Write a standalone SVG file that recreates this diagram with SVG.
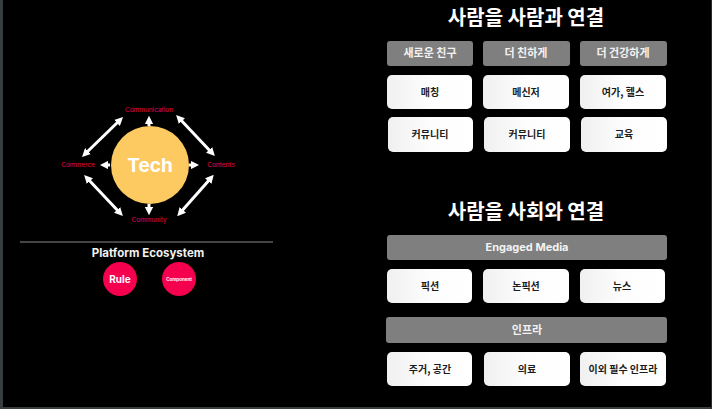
<svg xmlns="http://www.w3.org/2000/svg" width="712" height="409" viewBox="0 0 712 409">
<style>
.lbl{font-family:Inter,"Noto Sans","Noto Sans CJK KR",sans-serif;font-size:6.5px;fill:#e8004c;text-anchor:middle}
.kr{font-family:"Noto Sans CJK KR","Noto Sans",sans-serif;font-weight:700;text-anchor:middle}
.title{font-size:20px;fill:#fff}
.hdr{fill:#7f7f7f}
.hdrt{font-size:11px;fill:#f2f2f2}
.box{fill:url(#bg)}
.boxt{font-size:10px;fill:#1c1c1c}
.arr{stroke:#fff;stroke-width:3;fill:none}
.en{font-family:Inter,"Noto Sans",sans-serif;font-weight:700;text-anchor:middle}
</style>
<defs>
<marker id="ah" viewBox="0 0 10 10" refX="5" refY="5" markerWidth="2.8" markerHeight="2.8" orient="auto-start-reverse" markerUnits="strokeWidth">
<path d="M0,0 L10,5 L0,10 z" fill="#fff"/>
</marker>
<linearGradient id="bg" x1="0" y1="0" x2="1" y2="0">
<stop offset="0" stop-color="#f0f0f0"/>
<stop offset="0.5" stop-color="#fdfdfd"/>
<stop offset="1" stop-color="#fff"/>
</linearGradient>
</defs>
<rect width="712" height="409" fill="#000"/>
<rect x="0" y="0" width="3" height="409" fill="#383d40"/>
<rect x="0" y="407" width="712" height="2" fill="#383d40"/>
<rect x="711" y="0" width="1" height="409" fill="#2a2d30"/>

<g id="connectors">
<line class="arr" x1="149" y1="126" x2="149" y2="120" marker-end="url(#ah)"/>
<line class="arr" x1="110" y1="165" x2="104" y2="165" marker-end="url(#ah)"/>
<line class="arr" x1="189" y1="165" x2="195" y2="165" marker-end="url(#ah)"/>
<line class="arr" x1="149" y1="204" x2="149" y2="211" marker-end="url(#ah)"/>
<line class="arr" x1="85" y1="154" x2="120" y2="120" marker-start="url(#ah)" marker-end="url(#ah)"/>
<line class="arr" x1="179" y1="118" x2="212" y2="153" marker-start="url(#ah)" marker-end="url(#ah)"/>
<line class="arr" x1="87" y1="178" x2="120" y2="213" marker-start="url(#ah)" marker-end="url(#ah)"/>
<line class="arr" x1="180" y1="213" x2="211" y2="178" marker-start="url(#ah)" marker-end="url(#ah)"/>
</g>

<g id="tech">
<circle cx="150" cy="165" r="39" fill="#fdc961"/>
<text x="150" y="172" class="en" font-size="19" fill="#fff">Tech</text>
</g>
<g id="communication"><text x="149" y="112" class="lbl">Communication</text></g>
<g id="commerce"><text x="78" y="167" class="lbl">Commerce</text></g>
<g id="contents"><text x="221" y="167" class="lbl">Contents</text></g>
<g id="community"><text x="149" y="222" class="lbl">Community</text></g>

<g id="platform">
<line x1="20" y1="242" x2="273" y2="242" stroke="#8a8a8a" stroke-width="1"/>
<text x="148" y="257" class="en" font-size="11.5" fill="#f2f2f2">Platform Ecosystem</text>
</g>
<g id="rule">
<circle cx="120" cy="279" r="17" fill="#f5004f"/>
<text x="120" y="283" class="en" font-size="10" fill="#fff">Rule</text>
</g>
<g id="component">
<circle cx="179" cy="279" r="17" fill="#f5004f"/>
<text x="179" y="281" class="en" font-size="4.5" font-weight="400" fill="#fff">Component</text>
</g>

<g id="title1"><text x="526" y="25" class="kr title">사람을 사람과 연결</text></g>
<g id="h1"><rect x="387" y="41" width="86" height="25" rx="3" class="hdr"/><text x="430" y="57" class="kr hdrt">새로운 친구</text></g>
<g id="h2"><rect x="483" y="41" width="87" height="25" rx="3" class="hdr"/><text x="526" y="57" class="kr hdrt">더 친하게</text></g>
<g id="h3"><rect x="580" y="41" width="87" height="25" rx="3" class="hdr"/><text x="623" y="57" class="kr hdrt">더 건강하게</text></g>

<g id="b11"><rect x="387" y="75" width="85" height="34" rx="5" class="box"/><text x="430" y="96" class="kr boxt">매칭</text></g>
<g id="b12"><rect x="483" y="75" width="86" height="34" rx="5" class="box"/><text x="526" y="96" class="kr boxt">메신저</text></g>
<g id="b13"><rect x="580" y="75" width="86" height="34" rx="5" class="box"/><text x="623" y="96" class="kr boxt">여가, 헬스</text></g>
<g id="b21"><rect x="388" y="117" width="85" height="35" rx="5" class="box"/><text x="430" y="138" class="kr boxt">커뮤니티</text></g>
<g id="b22"><rect x="484" y="117" width="86" height="35" rx="5" class="box"/><text x="527" y="138" class="kr boxt">커뮤니티</text></g>
<g id="b23"><rect x="581" y="117" width="86" height="35" rx="5" class="box"/><text x="624" y="138" class="kr boxt">교육</text></g>

<g id="title2"><text x="526" y="219" class="kr title">사람을 사회와 연결</text></g>
<g id="media"><rect x="387" y="235" width="280" height="25" rx="3" class="hdr"/><text x="527" y="251" class="en" font-size="11" fill="#f2f2f2">Engaged Media</text></g>
<g id="b31"><rect x="387" y="269" width="85" height="34" rx="5" class="box"/><text x="430" y="290" class="kr boxt">픽션</text></g>
<g id="b32"><rect x="483" y="269" width="86" height="34" rx="5" class="box"/><text x="526" y="290" class="kr boxt">논픽션</text></g>
<g id="b33"><rect x="580" y="269" width="85" height="34" rx="5" class="box"/><text x="622" y="290" class="kr boxt">뉴스</text></g>

<g id="infra"><rect x="386" y="317" width="281" height="26" rx="3" class="hdr"/><text x="527" y="334" class="kr hdrt">인프라</text></g>
<g id="b41"><rect x="387" y="352" width="85" height="34" rx="5" class="box"/><text x="430" y="373" class="kr boxt">주거, 공간</text></g>
<g id="b42"><rect x="484" y="352" width="86" height="34" rx="5" class="box"/><text x="527" y="373" class="kr boxt">의료</text></g>
<g id="b43"><rect x="580" y="352" width="86" height="34" rx="5" class="box"/><text x="623" y="373" class="kr boxt">이외 필수 인프라</text></g>
</svg>
